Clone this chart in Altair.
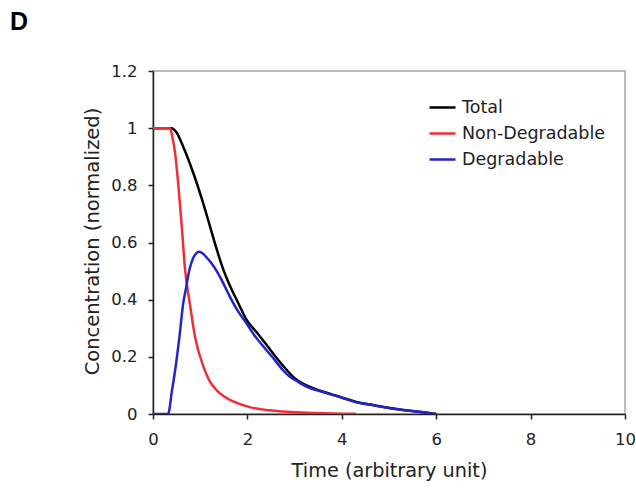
import altair as alt
import pandas as pd

total_x = [0, 0.39, 0.5, 0.64, 0.85, 1.03, 1.21, 1.38, 1.49, 1.60, 1.8, 1.98, 2.2, 2.4, 2.65, 2.9, 3.0, 3.25, 3.61, 4.0, 4.31, 4.7, 5.02, 5.4, 5.73, 6.0]
total_y = [1, 1, 0.985, 0.935, 0.845, 0.755, 0.655, 0.56, 0.505, 0.46, 0.39, 0.33, 0.285, 0.243, 0.19, 0.142, 0.125, 0.10, 0.078, 0.058, 0.042, 0.03, 0.021, 0.012, 0.006, 0]

nondeg_x = [0, 0.36, 0.41, 0.47, 0.54, 0.61, 0.68, 0.78, 0.89, 1.07, 1.2, 1.35, 1.5, 1.7, 2.05, 2.4, 2.75, 3.26, 3.8, 4.3]
nondeg_y = [1, 1, 0.97, 0.91, 0.795, 0.655, 0.504, 0.387, 0.27, 0.165, 0.115, 0.083, 0.062, 0.044, 0.024, 0.014, 0.009, 0.004, 0.002, 0.0005]

deg_x = [0, 0.32, 0.4, 0.47, 0.56, 0.64, 0.7, 0.77, 0.85, 0.92, 0.98, 1.05, 1.15, 1.25, 1.35, 1.45, 1.63, 1.8, 1.98, 2.15, 2.34, 2.55, 2.75, 2.9, 3.0, 3.25, 3.61, 4.0, 4.31, 4.7, 5.02, 5.4, 5.73, 6.0]
deg_y = [0, 0, 0.08, 0.154, 0.27, 0.387, 0.44, 0.504, 0.545, 0.563, 0.568, 0.562, 0.545, 0.525, 0.50, 0.47, 0.41, 0.36, 0.317, 0.275, 0.236, 0.195, 0.154, 0.13, 0.12, 0.096, 0.077, 0.057, 0.041, 0.03, 0.02, 0.012, 0.006, 0]

series_names = ["Total", "Non-Degradable", "Degradable"]
series_colors = ["#000000", "#ee2f36", "#2323cc"]
x_ticks = [0, 2, 4, 6, 8, 10]
y_ticks = [0, 0.2, 0.4, 0.6, 0.8, 1.0, 1.2]

rows = []
for name, xs, ys in [("Total", total_x, total_y), ("Non-Degradable", nondeg_x, nondeg_y), ("Degradable", deg_x, deg_y)]:
    for i, (a, b) in enumerate(zip(xs, ys)):
        rows.append({"series": name, "t": a, "c": b, "i": i})
df = pd.DataFrame(rows)

FONT = "DejaVu Sans"

lines = alt.Chart(df).mark_line(strokeWidth=2.5, clip=True, interpolate="monotone").encode(
    x=alt.X("t:Q", scale=alt.Scale(domain=[0, 10], nice=False),
            axis=alt.Axis(values=x_ticks, title="Time (arbitrary unit)", grid=False, labelFlush=False,
                          labelPadding=12, titleFontSize=19.3,
                          titleX=236, titleY=56, titleBaseline="middle", titleAlign="center")),
    y=alt.Y("c:Q", scale=alt.Scale(domain=[0, 1.2], nice=False),
            axis=alt.Axis(values=y_ticks, format="~g", title="Concentration (normalized)", grid=False,
                          labelFlush=False, labelPadding=11, titleFontSize=19.5,
                          titleX=-61, titleY=170, titleAngle=-90, titleBaseline="middle", titleAlign="center")),
    color=alt.Color("series:N", scale=alt.Scale(domain=series_names, range=series_colors),
                    legend=alt.Legend(title=None, orient="none", legendX=275, legendY=22,
                                      symbolType="stroke", symbolSize=676, symbolStrokeWidth=2.5,
                                      labelFontSize=17.5, labelFont=FONT, labelColor="#222222",
                                      labelOffset=5, rowPadding=3, padding=0)),
    order="i:Q",
    detail="series:N",
)

panel = alt.Chart(pd.DataFrame({"label": ["D"]})).mark_text(
    font="Liberation Sans", fontWeight="bold", fontSize=25, align="left", baseline="middle", color="#000000"
).encode(text="label:N", x=alt.value(-143), y=alt.value(-49))

chart = alt.layer(lines, panel).properties(
    width=472, height=343,
    autosize=alt.AutoSizeParams(type="none"),
    padding={"left": 153, "top": 71, "right": 11, "bottom": 74},
).configure_view(stroke="#a6a6a6", strokeWidth=1.5).configure_axis(
    domainColor="#222222", domainWidth=1.5, tickColor="#222222", tickSize=5, tickWidth=1.5,
    labelFont=FONT, labelFontSize=16.5, labelColor="#222222",
    titleFont=FONT, titleFontWeight="normal", titleColor="#222222",
)

chart.save("out.html", embed_options={"renderer": "svg", "actions": False})
